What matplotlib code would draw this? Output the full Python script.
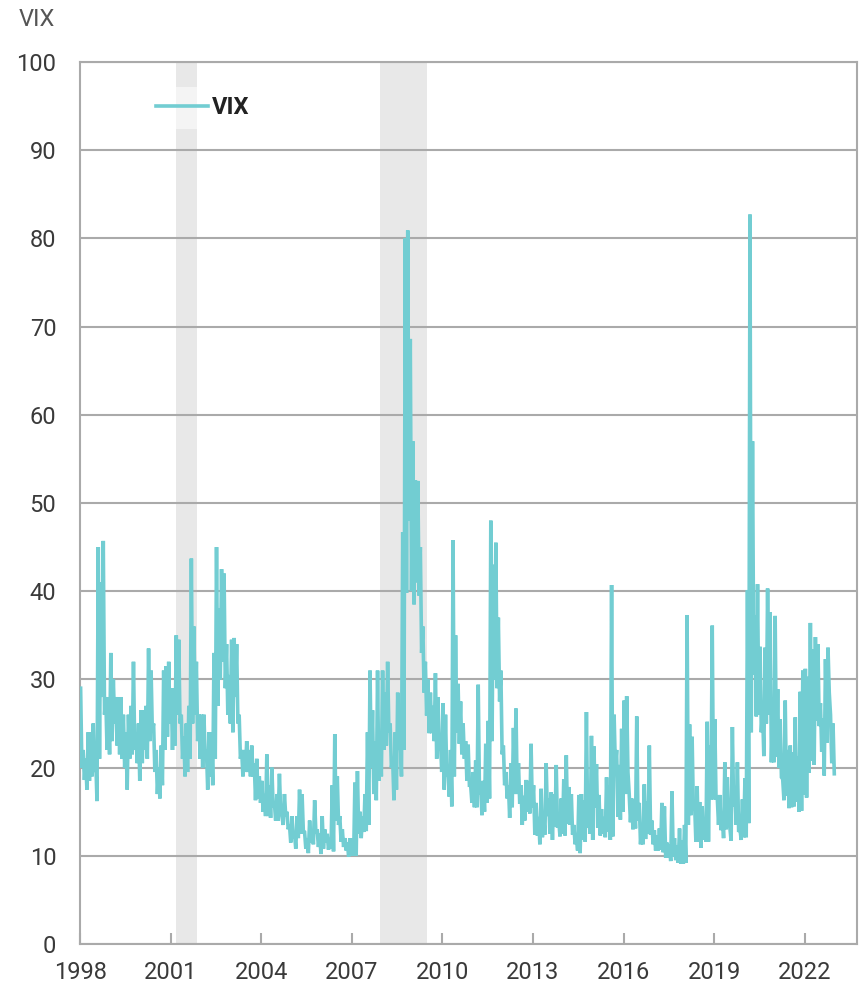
import numpy as np
import matplotlib
matplotlib.use('Agg')
from matplotlib import pyplot as plt

plt.rcParams['font.family'] = ['Roboto', 'DejaVu Sans']

years = list(range(1998, 2023))

# monthly highs of the VIX close, one row per year (Jan..Dec)
vix_high = [
    29.0, 22.0, 21.0, 24.0, 24.0, 25.0, 21.0, 45.0, 41.0, 45.7, 28.0, 28.0,   # 1998
    33.0, 30.0, 28.0, 28.0, 28.0, 26.0, 24.0, 26.0, 27.0, 32.0, 24.0, 25.0,   # 1999
    26.5, 26.5, 27.0, 33.5, 31.0, 25.0, 22.0, 20.0, 22.5, 31.0, 31.5, 32.0,   # 2000
    29.0, 29.0, 35.0, 34.5, 26.0, 23.5, 25.0, 27.0, 43.7, 36.0, 32.0, 26.0,   # 2001
    26.0, 26.0, 22.0, 24.0, 24.0, 33.0, 45.0, 38.0, 42.5, 42.0, 34.0, 30.5,   # 2002
    34.5, 34.7, 34.0, 26.0, 22.0, 22.0, 23.0, 22.0, 22.5, 20.5, 21.0, 19.0,   # 2003
    18.5, 17.0, 21.5, 18.0, 20.0, 16.0, 17.0, 19.3, 14.5, 17.0, 15.0, 13.5,   # 2004
    14.5, 12.5, 14.5, 17.5, 17.0, 12.7, 12.0, 14.0, 13.0, 16.3, 13.0, 12.5,   # 2005
    14.5, 13.0, 12.5, 12.0, 18.0, 23.8, 19.0, 14.5, 13.0, 12.0, 11.5, 12.0,   # 2006
    12.0, 18.3, 19.6, 15.0, 14.5, 17.0, 24.0, 31.0, 26.5, 23.0, 31.0, 24.0,   # 2007
    31.0, 28.5, 32.0, 25.0, 21.0, 24.0, 28.5, 24.0, 46.7, 80.0, 80.9, 68.6,   # 2008
    57.0, 52.6, 52.5, 45.0, 36.0, 32.0, 30.0, 28.5, 27.0, 30.7, 28.0, 23.0,   # 2009
    27.3, 26.0, 19.5, 22.0, 45.8, 35.0, 29.5, 27.5, 25.0, 23.0, 22.6, 18.0,   # 2010
    19.5, 20.8, 29.4, 17.5, 18.5, 22.7, 25.3, 48.0, 43.0, 45.5, 37.0, 31.0,   # 2011
    22.5, 19.5, 18.0, 20.5, 24.5, 26.7, 20.5, 18.0, 16.8, 18.6, 18.5, 22.7,   # 2012
    18.0, 16.0, 14.4, 17.6, 14.5, 20.5, 16.5, 17.2, 17.0, 20.3, 14.0, 16.5,   # 2013
    18.7, 21.4, 17.8, 17.0, 13.5, 12.3, 16.9, 17.0, 16.3, 26.3, 14.0, 23.6,   # 2014
    22.4, 20.4, 16.9, 15.3, 14.4, 18.9, 18.0, 40.7, 26.0, 22.0, 20.3, 24.4,   # 2015
    27.6, 28.1, 17.0, 16.5, 16.0, 25.8, 16.0, 13.5, 18.1, 16.2, 22.5, 14.0,   # 2016
    12.9, 12.3, 13.1, 16.0, 15.6, 11.5, 11.3, 17.3, 12.0, 11.2, 13.1, 11.7,   # 2017
    13.5, 37.3, 24.9, 23.5, 15.9, 17.9, 16.1, 15.6, 13.5, 25.2, 22.5, 36.1,   # 2018
    25.5, 16.6, 16.9, 14.8, 20.6, 18.9, 13.2, 24.6, 17.6, 20.6, 13.1, 16.4,   # 2019
    18.8, 40.1, 82.7, 57.0, 37.2, 40.8, 33.7, 26.5, 33.6, 40.3, 37.6, 26.5,   # 2020
    37.2, 28.9, 25.5, 18.7, 27.6, 22.0, 22.5, 21.7, 25.7, 21.3, 28.6, 31.0,   # 2021
    31.2, 30.3, 36.4, 33.4, 34.8, 34.0, 27.3, 25.6, 32.3, 33.6, 26.0, 25.0,   # 2022
]

# monthly lows of the VIX close
vix_low = [
    20.0, 18.6, 17.5, 18.5, 19.0, 19.5, 16.2, 21.0, 28.0, 26.0, 22.0, 21.5,   # 1998
    23.0, 25.0, 22.5, 21.5, 21.0, 20.0, 17.5, 21.0, 21.5, 22.0, 20.5, 18.5,   # 1999
    20.5, 22.0, 21.0, 23.0, 24.0, 19.5, 17.0, 16.5, 18.0, 22.0, 23.5, 25.0,   # 2000
    22.0, 22.5, 26.0, 25.0, 21.0, 19.0, 19.5, 21.0, 25.0, 26.0, 23.0, 21.0,   # 2001
    20.0, 21.0, 17.5, 19.0, 18.0, 21.0, 27.0, 30.0, 32.0, 29.0, 26.0, 25.0,   # 2002
    24.0, 28.0, 25.0, 21.0, 19.0, 19.5, 19.5, 19.0, 19.0, 16.3, 16.5, 16.0,   # 2003
    15.0, 14.5, 14.5, 14.3, 15.5, 14.0, 14.0, 15.0, 13.5, 14.5, 13.0, 11.5,   # 2004
    12.0, 10.8, 12.0, 12.5, 12.8, 10.8, 10.3, 11.5, 11.3, 12.5, 11.0, 10.2,   # 2005
    10.8, 11.5, 10.7, 10.8, 10.5, 14.0, 13.5, 11.6, 11.0, 10.6, 9.9, 10.0,    # 2006
    10.0, 10.0, 12.5, 12.0, 12.7, 12.8, 13.5, 20.0, 17.0, 16.3, 18.5, 19.0,   # 2007
    22.0, 22.5, 24.0, 20.0, 16.3, 17.5, 22.0, 19.0, 22.0, 39.8, 48.0, 40.0,   # 2008
    38.5, 41.0, 39.5, 33.0, 28.5, 25.9, 23.9, 23.9, 23.0, 21.0, 22.0, 19.5,   # 2009
    17.5, 19.0, 16.7, 15.6, 19.0, 24.0, 22.7, 21.5, 21.0, 18.5, 18.0, 16.0,   # 2010
    15.5, 15.5, 17.0, 14.6, 15.0, 16.0, 16.5, 23.0, 30.0, 29.0, 27.5, 21.5,   # 2011
    18.0, 16.5, 14.3, 15.5, 17.0, 17.0, 15.9, 13.5, 14.0, 15.0, 14.8, 15.5,   # 2012
    12.4, 12.3, 11.3, 12.1, 12.4, 14.5, 12.5, 11.8, 13.3, 13.2, 12.2, 12.5,   # 2013
    12.3, 13.6, 13.5, 12.4, 11.3, 10.6, 10.3, 11.8, 11.6, 13.2, 12.5, 11.8,   # 2014
    15.5, 13.2, 12.3, 12.5, 12.1, 12.7, 11.8, 12.2, 20.0, 14.4, 14.1, 15.0,   # 2015
    17.0, 19.5, 13.8, 13.0, 13.1, 14.0, 11.3, 11.3, 11.9, 12.5, 12.4, 11.3,   # 2016
    10.6, 10.6, 10.7, 10.4, 9.8, 9.8, 9.4, 9.9, 9.5, 9.2, 9.1, 9.1,           # 2017
    9.2, 13.5, 14.6, 15.2, 11.6, 11.6, 10.9, 11.8, 11.6, 11.6, 16.4, 16.4,    # 2018
    16.6, 13.5, 12.9, 12.0, 13.0, 14.0, 11.7, 15.6, 13.5, 12.7, 11.8, 12.1,   # 2019
    12.1, 13.7, 24.0, 30.5, 25.8, 26.0, 24.0, 21.3, 25.0, 26.0, 20.6, 20.6,   # 2020
    21.2, 20.0, 18.9, 16.3, 16.8, 15.4, 15.5, 15.6, 16.1, 15.0, 15.1, 16.9,   # 2021
    16.6, 19.4, 20.8, 20.3, 25.3, 24.7, 21.8, 19.1, 22.8, 28.5, 20.5, 19.3,   # 2022
]

# NBER recessions (decimal years)
recessions = [(2001.17, 2001.88), (2007.92, 2009.5)]
xtick_years = list(range(1998, 2023, 3))

# zigzag: each month's high then its low
t = []
v = []
for i in range(len(vix_high)):
    yr = years[0] + i // 12
    m = i % 12
    t += [yr + (m + 0.25) / 12, yr + (m + 0.75) / 12]
    v += [vix_high[i], vix_low[i]]

fig = plt.figure(figsize=(8.63, 9.96), dpi=100)
ax = fig.add_axes([0.0927, 0.0522, 0.9003, 0.8856])

for a, b in recessions:
    ax.axvspan(a, b, color='#e8e8e8', lw=0, zorder=0)

ax.plot(t, v, color='#72cdd2', lw=2.6, label='VIX', zorder=3,
        solid_joinstyle='miter')

ax.set_xlim(1998, 2023.73)
ax.set_ylim(0, 100)
ax.set_yticks(range(0, 101, 10))
ax.set_xticks(xtick_years)
ax.set_xticklabels([str(y) for y in xtick_years])
ax.yaxis.grid(True, color='#aaaaaa', lw=1.5, zorder=1)
ax.set_axisbelow(True)

for s in ax.spines.values():
    s.set_color('#aaaaaa')
    s.set_linewidth(1.5)

ax.tick_params(axis='x', direction='in', length=8, width=1.5, color='#aaaaaa',
               labelsize=17, labelcolor='#3a3a3a', pad=12)
ax.tick_params(axis='y', length=0, labelsize=17, labelcolor='#3a3a3a', pad=17)

fig.text(0.022, 0.992, 'VIX', fontsize=17, color='#555555', va='top', ha='left')

leg = ax.legend(loc='upper left', bbox_to_anchor=(0.07, 0.985), frameon=True,
                framealpha=0.55, edgecolor='none', fancybox=False,
                handlelength=2.2, handletextpad=0.2, borderpad=0.4,
                prop={'size': 17, 'weight': 'bold'})
for txt in leg.get_texts():
    txt.set_color('#222222')

plt.savefig('out.png', dpi=100)
